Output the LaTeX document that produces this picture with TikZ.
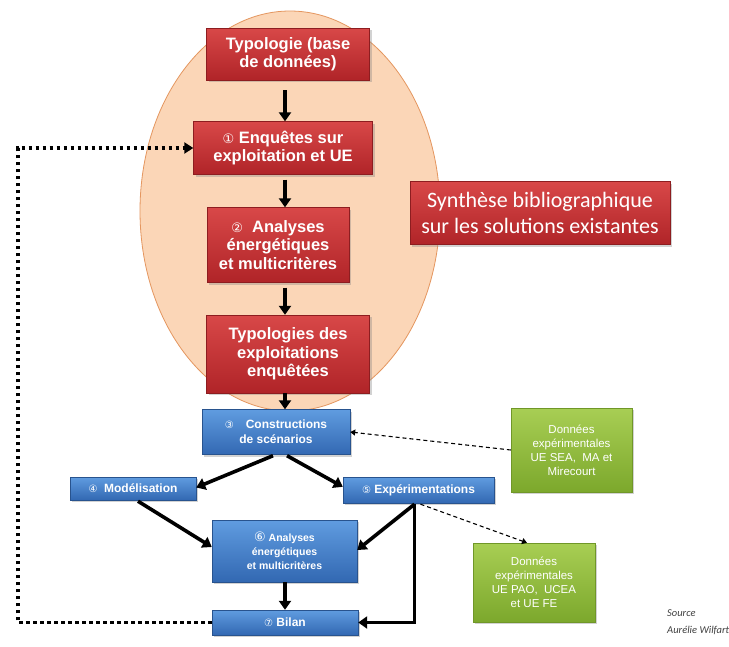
\documentclass[tikz,border=0pt]{standalone}
\usepackage{fontspec}
\setmainfont{Liberation Sans}
\newfontfamily\carl{Carlito}
\newfontfamily\dv{DejaVu Sans}
\usetikzlibrary{arrows.meta,shadows,calc,shapes.geometric}
\definecolor{peach}{RGB}{251,214,183}
\definecolor{peachline}{RGB}{228,150,95}
\definecolor{redtop}{RGB}{216,72,72}
\definecolor{redbot}{RGB}{176,36,40}
\definecolor{blutop}{RGB}{96,156,224}
\definecolor{blubot}{RGB}{50,104,178}
\definecolor{grntop}{RGB}{168,206,84}
\definecolor{grnbot}{RGB}{124,168,44}
\tikzset{
  basebox/.style={rectangle, align=center, text=white, inner sep=1pt,
    drop shadow={shadow xshift=2pt, shadow yshift=-2pt, opacity=0.35}},
  redbox/.style={basebox, draw=redbot!80!black, top color=redtop, bottom color=redbot,
    font=\bfseries\fontsize{16.5}{18.5}\selectfont},
  bluebox/.style={basebox, draw=blubot!80!black, top color=blutop, bottom color=blubot,
    font=\bfseries\fontsize{12}{15}\selectfont},
  greenbox/.style={basebox, draw=grnbot!90!black, top color=grntop, bottom color=grnbot,
    font=\fontsize{11.5}{14}\selectfont},
  srctext/.style={anchor=west, inner sep=0pt, font=\carl\itshape\fontsize{10.5}{12}\selectfont, text=black!75},
  arr/.style={line width=3.6pt, -{Triangle[length=9pt,width=12pt]}},
  thinarr/.style={line width=1.1pt, dash pattern=on 4pt off 3pt, -{Triangle[length=5pt,width=6pt]}},
  dotarr/.style={line width=3.5pt, dash pattern=on 3.5pt off 3.5pt, -{Triangle[length=9pt,width=11pt]}},
}
\begin{document}
\begin{tikzpicture}[x=1pt, y=-1pt]
\useasboundingbox (0,0) rectangle (729,646);
\fill[white] (0,0) rectangle (729,646);
% ellipse
\node[ellipse, draw=peachline, line width=0.8pt, fill=peach, minimum width=300pt, minimum height=400pt, inner sep=0pt] (ell) at (290,211) {};
\coordinate (ax) at (285,0);
% red boxes
\node[redbox, minimum width=163pt, minimum height=52pt] (t1) at (288,54) {Typologie\ (base\\de données)};
\node[redbox, minimum width=179pt, minimum height=53pt] (t2) at (283,148) {{\dv\mdseries\fontsize{13}{13}\selectfont ①} Enquêtes sur\\exploitation et UE};
\node[redbox, minimum width=142pt, minimum height=75pt] (t3) at (278,245) {{\dv\mdseries\fontsize{13}{13}\selectfont ②}\ \ Analyses\\énergétiques\\et multicritères};
\node[redbox, minimum width=163pt, minimum height=78pt] (t4) at (288,354) {Typologies des\\exploitations\\enquêtées};
\node[redbox, minimum width=260pt, minimum height=63pt, font=\carl\fontsize{22}{26}\selectfont] (syn) at (540,213) {Synthèse bibliographique\\sur les solutions existantes};
% blue boxes
\node[bluebox, minimum width=148pt, minimum height=45pt] (cons) at (276,432) {{\dv\mdseries\fontsize{10}{10}\selectfont ③}\quad Constructions\\de scénarios};
\node[bluebox, minimum width=126pt, minimum height=23pt] (mod) at (133,488.5) {{\dv\mdseries\fontsize{10}{10}\selectfont ④}\ \ Modélisation};
\node[bluebox, minimum width=151pt, minimum height=26pt] (exp) at (418.5,490) {{\dv\mdseries\fontsize{10}{10}\selectfont ⑤}\ Expérimentations};
\node[bluebox, minimum width=145pt, minimum height=62pt, font=\bfseries\fontsize{10.5}{14}\selectfont] (an6) at (284.5,551) {{\dv\mdseries\fontsize{13}{13}\selectfont ⑥}\ Analyses\\énergétiques\\et multicritères};
\node[bluebox, minimum width=146pt, minimum height=25pt] (bil) at (285,622.5) {{\dv\mdseries\fontsize{10}{10}\selectfont ⑦}\ Bilan};
% green boxes
\node[greenbox, minimum width=121pt, minimum height=84pt] (g1) at (571.5,450) {Données\\expérimentales\\UE SEA,\ \ MA et\\Mirecourt};
\node[greenbox, minimum width=122pt, minimum height=79pt] (g2) at (534,582.5) {Données\\expérimentales\\UE PAO,\ \ UCEA\\et UE FE};
% source
\node[srctext] (src1) at (667,613) {Source};
\node[srctext] (src2) at (667,630) {Aurélie Wilfart};
% arrows in ellipse
\draw[arr] ($(t1.south -| ax)+(0,10)$) -- (t2.north -| ax);
\draw[arr] ($(t2.south -| ax)+(0,5)$) -- (t3.north -| ax);
\draw[arr] ($(t3.south -| ax)+(0,5)$) -- (t4.north -| ax);
\draw[arr] (t4.south -| ax) -- (cons.north -| ax);
% blue flow
\draw[arr] ($(cons.south)+(-3,1)$) -- ($(mod.east)+(0,-1)$);
\draw[arr] ($(cons.south)+(11,1)$) -- ($(exp.north west)+(0,10)$);
\draw[arr] ($(mod.south)+(5,1)$) -- ($(an6.west)+(0,-4)$);
\draw[arr] ($(exp.south)+(-4,1)$) -- ($(an6.east)+(0,-1)$);
\draw[arr] ($(exp.south)+(-4,1)$) |- (bil.east);
\draw[arr] (an6.south -| ax) -- (bil.north -| ax);
% dashed
\draw[thinarr] (g1.west) -- (cons.east);
\draw[thinarr] ($(exp.south)+(2,1)$) -- ($(g2.north)+(-7,0)$);
% dotted feedback
\coordinate (fb) at (18,0);
\draw[dotarr] (bil.west) -- (bil.west -| fb) -- (t2.west -| fb) -- (t2.west);
\end{tikzpicture}
\end{document}
